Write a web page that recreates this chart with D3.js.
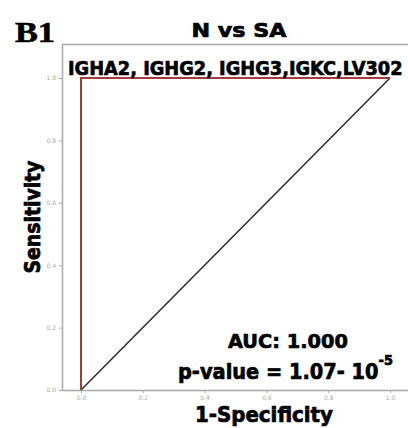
<!DOCTYPE html>
<html>
<head>
<meta charset="utf-8">
<script src="https://cdn.jsdelivr.net/npm/d3@7"></script>
<style>
  body { margin: 0; background: #fff; }
  .tick text { fill: #aaa; font-family: "DejaVu Sans", sans-serif; font-size: 6px; }
  .tick line { stroke: #aaa; }
  .bold { font-family: "DejaVu Sans", sans-serif; font-weight: bold; fill: #000; stroke: #000; stroke-width: 0.7px; }
</style>
</head>
<body>
<div id="graph"></div>
<script>
// data
var rocFpr = [0, 0, 1];
var rocTpr = [0, 1, 1];
var refFpr = [0, 1];
var refTpr = [0, 1];
var tickVals = [0, 0.2, 0.4, 0.6, 0.8, 1.0];

var W = 408, H = 428;

// ranges
var x = d3.scaleLinear().domain([0, 1]).range([81, 390]);
var y = d3.scaleLinear().domain([0, 1]).range([390, 78]);

var svg = d3.select("#graph")
    .append("svg")
        .attr("width", W)
        .attr("height", H);

// frame
svg.append("path")
    .attr("d", "M408,44.5H62.5V390.5H408")
    .style("fill", "none")
    .style("stroke", "#a8a8a8")
    .style("stroke-width", 1.5);

// axes
var xAxis = d3.axisBottom(x).tickValues(tickVals).tickSize(3).tickPadding(3)
    .tickFormat(d3.format(".1f"));
var yAxis = d3.axisLeft(y).tickValues(tickVals).tickSize(3).tickPadding(3)
    .tickFormat(d3.format(".1f"));

svg.append("g")
    .attr("transform", "translate(0,390)")
    .call(xAxis)
    .call(function(g) { g.select(".domain").remove(); });

svg.append("g")
    .attr("transform", "translate(62,0)")
    .call(yAxis)
    .call(function(g) { g.select(".domain").remove(); });

var line = d3.line()
    .x(function(d) { return x(d[0]); })
    .y(function(d) { return y(d[1]); });

// reference line
svg.append("path")
    .datum(d3.zip(refFpr, refTpr))
    .attr("d", line)
    .style("fill", "none")
    .style("stroke", "#2a2a2a")
    .style("stroke-width", 1.5);

// roc curve
svg.append("path")
    .datum(d3.zip(rocFpr, rocTpr))
    .attr("d", line)
    .style("fill", "none")
    .style("stroke", "#a33a3e")
    .style("stroke-width", 2);

// squeeze a text horizontally to a given width (keeps its height)
function squeeze(t, x0, y0, len, anchor, rot) {
    var w = t.node().getComputedTextLength();
    var sx = len / w;
    var dx = anchor === "middle" ? -len / 2 : 0;
    t.attr("transform", "translate(" + x0 + "," + y0 + ")" + (rot ? " rotate(" + rot + ")" : "") +
        " translate(" + dx + ",0) scale(" + sx + ",1)");
    return t;
}

function boldText(str, x0, y0, size, len, anchor, rot) {
    var t = svg.append("text")
        .attr("class", "bold")
        .style("font-size", size + "px")
        .text(str);
    return squeeze(t, x0, y0, len, anchor, rot);
}

// labels
var b1 = svg.append("text")
    .style("font-family", "Liberation Serif, serif")
    .style("font-weight", "bold")
    .style("font-size", "29px")
    .style("stroke", "#000")
    .style("stroke-width", "0.6px")
    .text("B1");
squeeze(b1, 15, 42, 40);

boldText("N vs SA", 239, 37, 20, 95, "middle");
boldText("IGHA2, IGHG2, IGHG3,IGKC,LV302", 68, 75, 20, 335);
boldText("AUC: 1.000", 288, 348, 20, 120, "middle");

var p = svg.append("text")
    .attr("class", "bold")
    .style("font-size", "21px");
p.append("tspan").text("p-value = 1.07- 10");
p.append("tspan")
    .attr("dy", -14)
    .style("font-size", "14px")
    .text("-5");
squeeze(p, 178, 379, 215);

boldText("1-Specificity", 264, 422, 21, 138, "middle");
boldText("Sensitivity", 40, 217, 21, 113, "middle", -90);
</script>
</body>
</html>
